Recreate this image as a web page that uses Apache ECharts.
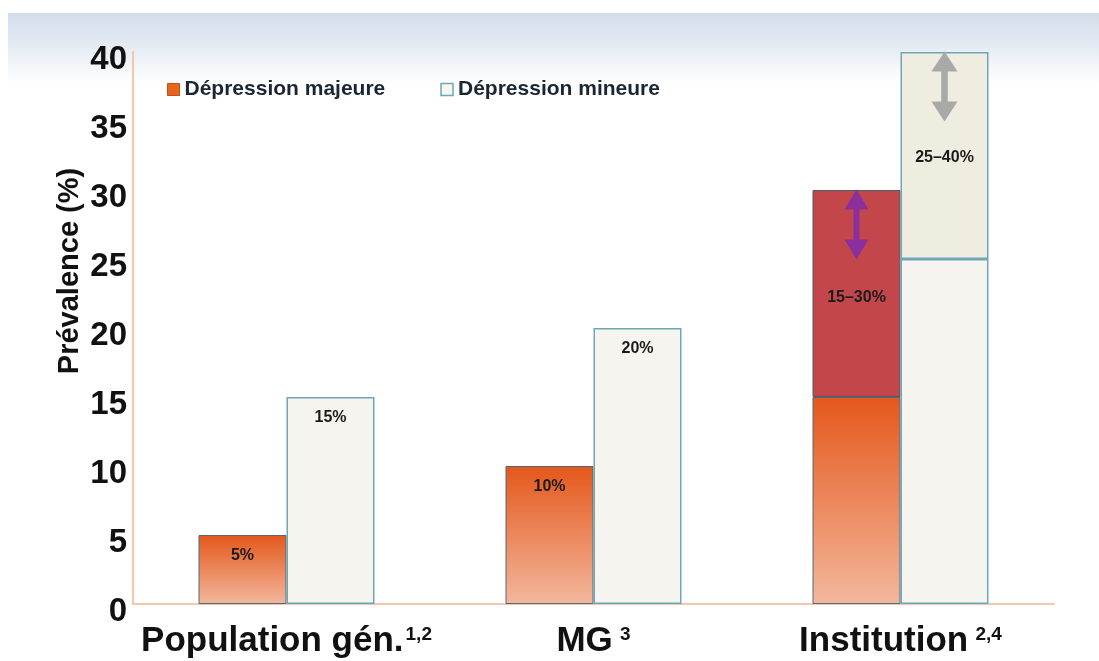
<!DOCTYPE html>
<html>
<head>
<meta charset="utf-8">
<script src="https://cdn.jsdelivr.net/npm/echarts@6/dist/echarts.min.js"></script>
<style>
html,body{margin:0;padding:0;background:#fff;}
#c{width:1099px;height:661px;}
</style>
</head>
<body>
<div id="c"></div>
<script>
// ---- data ----
var categories = ['Population gén.', 'MG', 'Institution'];
var categorySup = ['1,2', ' 3', ' 2,4'];
var yTicks = { min: 0, max: 40, interval: 5 };
var majeureBase = [5, 10, 15];          // Dépression majeure (lower value)
var majeureRange = ['-', '-', 15];       // extra range 15–30 %
var mineureBase = [15, 20, 25];          // Dépression mineure (lower value)
var mineureRange = ['-', '-', 15];       // extra range 25–40 %
var majeureLabels = ['5%', '10%', ''];
var majeureRangeLabels = ['', '', '15–30%'];
var mineureLabels = ['15%', '20%', ''];
var mineureRangeLabels = ['', '', '25–40%'];
var majeureArrow = ['Institution', 27.5];
var mineureArrow = ['Institution', 37.5];

var FONT = '"Liberation Sans", Arial, Helvetica, sans-serif';
var arrowPath = 'path://M12,0 L24,20 L15,20 L15,50 L24,50 L12,70 L0,50 L9,50 L9,20 L0,20 Z';

function labelFrom(arr) {
  return function (p) { return arr[p.dataIndex] || ''; };
}

var chart = echarts.init(document.getElementById('c'));
var option = {
  backgroundColor: '#ffffff',
  animation: false,
  graphic: [{
    type: 'rect',
    z: -10,
    shape: { x: 8, y: 13, width: 1091, height: 70 },
    style: {
      fill: new echarts.graphic.LinearGradient(0, 0, 0, 1, [
        { offset: 0, color: '#d2ddea' },
        { offset: 0.5, color: '#e5ecf4' },
        { offset: 1, color: '#ffffff' }
      ])
    },
    silent: true
  }],
  legend: {
    left: 162,
    top: 74,
    icon: 'rect',
    itemWidth: 12,
    itemHeight: 12,
    itemGap: 55,
    textStyle: { fontFamily: FONT, fontWeight: 'bold', fontSize: 21, color: '#1b2634' },
    data: [
      { name: 'Dépression majeure', itemStyle: { color: '#e8641f', borderColor: '#c05020', borderWidth: 1 } },
      { name: 'Dépression mineure', itemStyle: { color: '#f6f5f0', borderColor: '#6ea6b8', borderWidth: 1.5 } }
    ]
  },
  grid: { left: 133, right: 45, top: 52, bottom: 57 },
  xAxis: {
    type: 'category',
    data: categories,
    axisLine: { show: true, lineStyle: { color: '#f3c6ae', width: 2 } },
    axisTick: { show: false },
    axisLabel: {
      margin: 20,
      formatter: function (v, i) { return '{a|' + v + '}{s|' + categorySup[i] + '}'; },
      rich: {
        a: { fontFamily: FONT, fontWeight: 'bold', fontSize: 35, color: '#111111', padding: [0, 2, 0, 0] },
        s: { fontFamily: FONT, fontWeight: 'bold', fontSize: 19, color: '#111111', padding: [0, 0, 14, 0] }
      }
    }
  },
  yAxis: {
    type: 'value',
    min: yTicks.min,
    max: yTicks.max,
    interval: yTicks.interval,
    name: 'Prévalence (%)',
    nameLocation: 'middle',
    nameGap: 49,
    nameRotate: 90,
    nameMoveOverlap: false,
    nameTextStyle: { fontFamily: FONT, fontWeight: 'bold', fontSize: 29, color: '#111111', padding: [0, 0, 0, 114] },
    axisLine: { show: true, lineStyle: { color: '#f3c6ae', width: 2 } },
    axisTick: { show: false },
    splitLine: { show: false },
    axisLabel: {
      margin: 6,
      formatter: function (v) { return '{v|' + v + '}'; },
      rich: {
        v: { fontFamily: FONT, fontWeight: 'bold', fontSize: 33, color: '#111111', padding: [16, 0, 0, 0] }
      }
    }
  },
  series: [
    {
      name: 'Dépression majeure',
      type: 'bar',
      stack: 'maj',
      barWidth: 88,
      barGap: '0%',
      data: majeureBase,
      itemStyle: {
        color: new echarts.graphic.LinearGradient(0, 0, 0, 1, [
          { offset: 0, color: '#e4581b' },
          { offset: 1, color: '#f3b79d' }
        ]),
        borderColor: '#4f6a7a',
        borderWidth: 1
      },
      label: {
        show: true, position: 'insideTop', distance: 13,
        formatter: labelFrom(majeureLabels),
        fontFamily: FONT, fontWeight: 'bold', fontSize: 16, color: '#1a1a1a'
      }
    },
    {
      name: 'Majeure (intervalle)',
      type: 'bar',
      stack: 'maj',
      barWidth: 88,
      barGap: '0%',
      data: majeureRange,
      itemStyle: { color: '#c3464b', borderColor: '#4f5a68', borderWidth: 1 },
      label: {
        show: true, position: 'inside',
        formatter: labelFrom(majeureRangeLabels),
        fontFamily: FONT, fontWeight: 'bold', fontSize: 16, color: '#1a1a1a',
        offset: [0, 4]
      },
      markPoint: {
        silent: true,
        symbol: arrowPath,
        symbolSize: [24, 70],
        itemStyle: { color: '#8a2f9c' },
        label: { show: false },
        data: [{ coord: majeureArrow }]
      }
    },
    {
      name: 'Dépression mineure',
      type: 'bar',
      stack: 'min',
      barWidth: 88,
      barGap: '0%',
      data: mineureBase,
      itemStyle: { color: '#f5f4ee', borderColor: '#6ea6b8', borderWidth: 1.5 },
      label: {
        show: true, position: 'insideTop', distance: 13,
        formatter: labelFrom(mineureLabels),
        fontFamily: FONT, fontWeight: 'bold', fontSize: 16, color: '#1a1a1a'
      }
    },
    {
      name: 'Mineure (intervalle)',
      type: 'bar',
      stack: 'min',
      barWidth: 88,
      barGap: '0%',
      data: mineureRange,
      itemStyle: { color: '#efece0', borderColor: '#6ea6b8', borderWidth: 1.5 },
      label: {
        show: true, position: 'inside',
        formatter: labelFrom(mineureRangeLabels),
        fontFamily: FONT, fontWeight: 'bold', fontSize: 16, color: '#1a1a1a',
        offset: [0, 2]
      },
      markPoint: {
        silent: true,
        symbol: arrowPath,
        symbolSize: [26, 70],
        itemStyle: { color: '#a9a9a7' },
        label: { show: false },
        data: [{ coord: mineureArrow }]
      }
    }
  ]
};
chart.setOption(option);
</script>
</body>
</html>
